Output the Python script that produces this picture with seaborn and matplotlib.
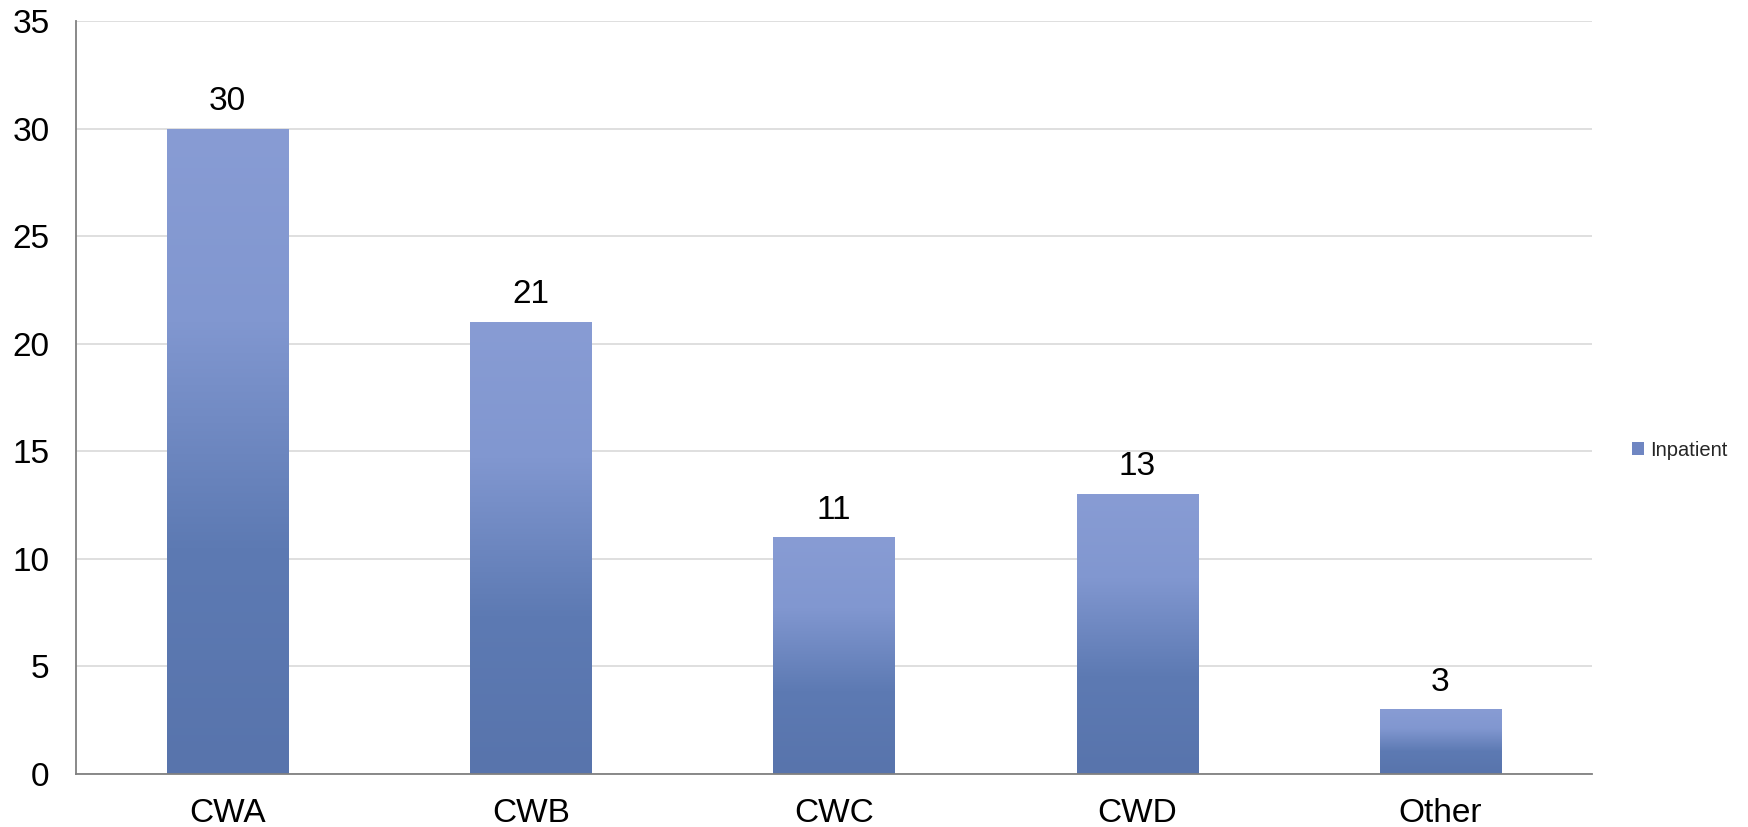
import numpy as np
import pandas as pd
import matplotlib
matplotlib.use('Agg')
import matplotlib.pyplot as plt
import seaborn as sns
from matplotlib.colors import LinearSegmentedColormap
from matplotlib.patches import Patch

# 数据
categories = ['CWA', 'CWB', 'CWC', 'CWD', 'Other']
inpatient = [30, 21, 11, 13, 3]
y_ticks = [0, 5, 10, 15, 20, 25, 30, 35]

df = pd.DataFrame({'Category': categories, 'Inpatient': inpatient})

sns.set_theme(style='white')
plt.rcParams['font.family'] = ['Liberation Sans', 'DejaVu Sans']

fig = plt.figure(figsize=(17.49, 8.27), dpi=100)
ax = fig.add_axes([76 / 1749, 1 - 774 / 827, (1592 - 76) / 1749, (774 - 21) / 827])

sns.barplot(data=df, x='Category', y='Inpatient', ax=ax, width=0.40,
            color='#6F86C2', saturation=1, zorder=2)

# 渐变填充（上浅下深）
cmap = LinearSegmentedColormap.from_list(
    'bar_grad', [(0.0, '#5874AC'), (0.35, '#5D7AB3'), (0.7, '#8197D0'), (1.0, '#889CD4')])
grad = np.linspace(0, 1, 256).reshape(-1, 1)
for p in ax.patches:
    x0, y0 = p.get_x(), p.get_y()
    w, h = p.get_width(), p.get_height()
    p.set_facecolor('none')
    p.set_edgecolor('none')
    im = ax.imshow(grad, cmap=cmap, aspect='auto', origin='lower',
                   extent=[x0, x0 + w, y0, y0 + h], zorder=2)
    im.set_clip_path(p)

ax.set_xlim(-0.5, len(categories) - 0.5)
ax.set_ylim(0, 35)
ax.set_yticks(y_ticks)
ax.yaxis.grid(True, color='#D9D9D9', linewidth=1.2, zorder=0)
ax.set_axisbelow(True)

for i, v in enumerate(inpatient):
    ax.text(i, v + 0.55, str(v), ha='center', va='bottom', fontsize=24, color='black')

ax.set_xlabel('')
ax.set_ylabel('')
ax.tick_params(axis='both', length=0, labelsize=24, colors='black')
ax.tick_params(axis='x', pad=17)
ax.tick_params(axis='y', pad=19)

for s in ['top', 'right']:
    ax.spines[s].set_visible(False)
for s in ['left', 'bottom']:
    ax.spines[s].set_color('#808080')
    ax.spines[s].set_linewidth(1.3)

handle = Patch(facecolor='#6F86C2', edgecolor='none', label='Inpatient')
fig.legend(handles=[handle], loc='center left', bbox_to_anchor=(1622 / 1749, 1 - 450 / 827),
           frameon=False, fontsize=14.5, handlelength=0.6, handleheight=0.6,
           handletextpad=0.3, borderpad=0)

fig.savefig('out.png', dpi=100)
